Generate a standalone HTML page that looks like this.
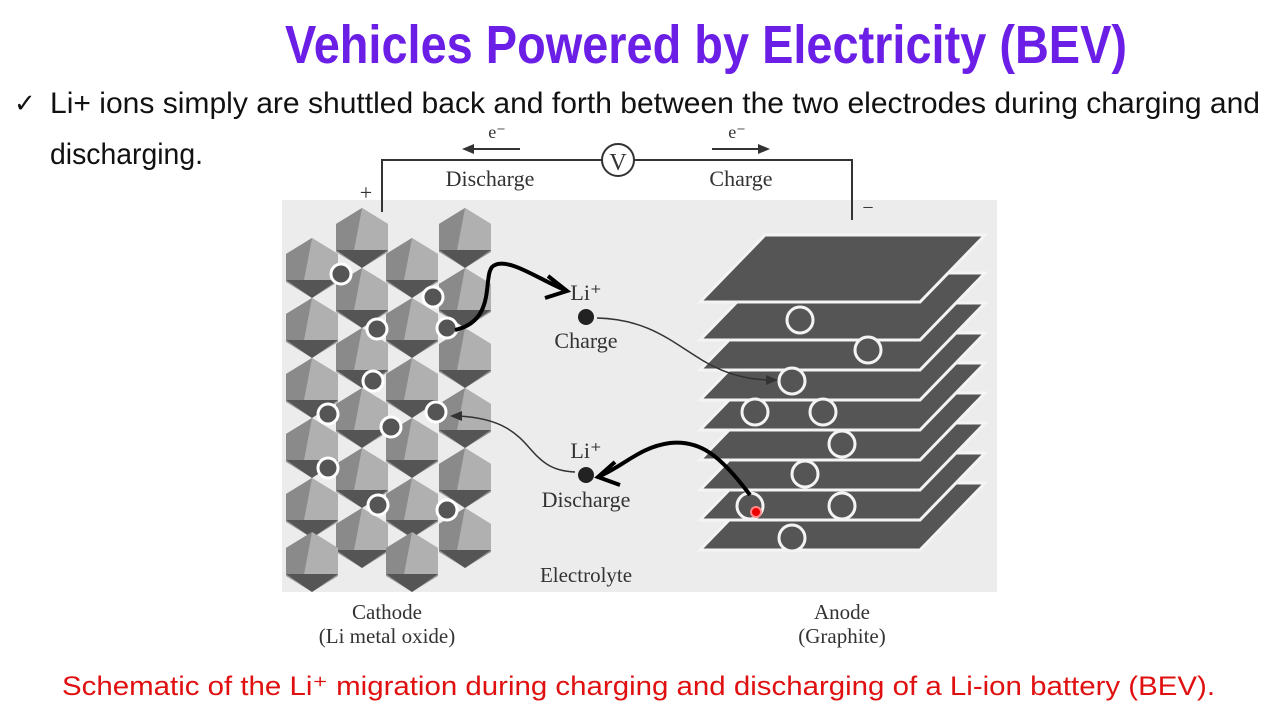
<!DOCTYPE html>
<html><head><meta charset="utf-8"><style>
html,body{margin:0;padding:0;background:#fff;}
svg{display:block;}
text{font-family:"Liberation Sans",sans-serif;}
.s{font-family:"Liberation Serif",serif;fill:#333;}
</style></head><body>
<svg width="1280" height="720" viewBox="0 0 1280 720" xmlns="http://www.w3.org/2000/svg">
<defs>
<g id="oct">
<polygon points="0,-30 26,-14 26,14 0,30 -26,14 -26,-14" fill="#9a9a9a"/>
<polygon points="0,-30 26,-14 26,12 -8,12" fill="#b0b0b0"/>
<polygon points="0,-30 -26,-14 -26,12 -8,12" fill="#8a8a8a"/>
<polygon points="-26,12 26,12 0,30" fill="#555"/>
</g>
<g id="ion"><circle r="10" fill="#555" stroke="#fff" stroke-width="3"/></g>
</defs>
<rect width="1280" height="720" fill="#fff"/>
<text x="285" y="63" font-size="54" font-weight="bold" fill="#6b1fe6" textLength="842" lengthAdjust="spacingAndGlyphs">Vehicles Powered by Electricity (BEV)</text>
<text x="14" y="112" font-size="26" fill="#111">✓</text>
<text x="50" y="113" font-size="30" fill="#111" textLength="1210" lengthAdjust="spacingAndGlyphs">Li+ ions simply are shuttled back and forth between the two electrodes during charging and</text>
<text x="50" y="164" font-size="30" fill="#111" textLength="153" lengthAdjust="spacingAndGlyphs">discharging.</text>

<rect x="282" y="200" width="715" height="392" fill="#ececec"/>
<path d="M382 212 V160 H602 M634 160 H852 V220" fill="none" stroke="#333" stroke-width="2"/>
<circle cx="618" cy="160" r="16" fill="#fff" stroke="#333" stroke-width="2"/>
<text x="618" y="170" class="s" font-size="24" text-anchor="middle">V</text>
<text x="366" y="200" class="s" font-size="22" text-anchor="middle">+</text>
<text x="868" y="214" class="s" font-size="20" text-anchor="middle">−</text>
<text x="490" y="186" class="s" font-size="22" text-anchor="middle">Discharge</text>
<text x="741" y="186" class="s" font-size="22" text-anchor="middle">Charge</text>
<text x="497" y="138" class="s" font-size="18" text-anchor="middle">e⁻</text>
<text x="737" y="138" class="s" font-size="18" text-anchor="middle">e⁻</text>
<path d="M520 149 H470" stroke="#333" stroke-width="2"/><polygon points="462,149 474,144 474,154" fill="#333"/>
<path d="M712 149 H760" stroke="#333" stroke-width="2"/><polygon points="770,149 758,144 758,154" fill="#333"/>

<g>
<use href="#oct" x="362" y="238"/><use href="#oct" x="465" y="238"/>
<use href="#oct" x="312" y="268"/><use href="#oct" x="412" y="268"/>
<use href="#oct" x="362" y="298"/><use href="#oct" x="465" y="298"/>
<use href="#oct" x="312" y="328"/><use href="#oct" x="412" y="328"/>
<use href="#oct" x="362" y="358"/><use href="#oct" x="465" y="358"/>
<use href="#oct" x="312" y="388"/><use href="#oct" x="412" y="388"/>
<use href="#oct" x="362" y="418"/><use href="#oct" x="465" y="418"/>
<use href="#oct" x="312" y="448"/><use href="#oct" x="412" y="448"/>
<use href="#oct" x="362" y="478"/><use href="#oct" x="465" y="478"/>
<use href="#oct" x="312" y="508"/><use href="#oct" x="412" y="508"/>
<use href="#oct" x="362" y="538"/><use href="#oct" x="465" y="538"/>
<use href="#oct" x="312" y="562"/><use href="#oct" x="412" y="562"/>
</g>
<g>
<use href="#ion" x="341" y="274"/><use href="#ion" x="433" y="297"/><use href="#ion" x="377" y="329"/>
<use href="#ion" x="447" y="328"/><use href="#ion" x="373" y="381"/><use href="#ion" x="328" y="414"/>
<use href="#ion" x="391" y="427"/><use href="#ion" x="436" y="412"/><use href="#ion" x="328" y="468"/>
<use href="#ion" x="378" y="505"/><use href="#ion" x="447" y="510"/>
</g>

<g stroke="#f4f4f4" stroke-width="3" fill="#555">
<polygon points="700,550 765,483 985,483 920,550"/>
<polygon points="700,520 765,453 985,453 920,520"/>
<polygon points="700,490 765,423 985,423 920,490"/>
<polygon points="700,460 765,393 985,393 920,460"/>
<polygon points="700,430 765,363 985,363 920,430"/>
<polygon points="700,400 765,333 985,333 920,400"/>
<polygon points="700,370 765,303 985,303 920,370"/>
<polygon points="700,340 765,273 985,273 920,340"/>
<polygon points="700,302 765,235 985,235 920,302"/>
</g>
<g fill="#555" stroke="#f4f4f4" stroke-width="3">
<circle cx="800" cy="320" r="13"/><circle cx="868" cy="350" r="13"/><circle cx="792" cy="381" r="13"/>
<circle cx="755" cy="412" r="13"/><circle cx="823" cy="412" r="13"/><circle cx="842" cy="444" r="13"/>
<circle cx="805" cy="474" r="13"/><circle cx="842" cy="506" r="13"/><circle cx="750" cy="506" r="13"/>
<circle cx="792" cy="538" r="13"/>
</g>
<circle cx="756" cy="512" r="5" fill="#e00" stroke="#f88" stroke-width="2"/>

<circle cx="586" cy="317" r="8" fill="#222"/>
<circle cx="586" cy="475" r="8" fill="#222"/>
<text x="586" y="300" class="s" font-size="22" text-anchor="middle">Li⁺</text>
<text x="586" y="348" class="s" font-size="22" text-anchor="middle">Charge</text>
<text x="586" y="458" class="s" font-size="22" text-anchor="middle">Li⁺</text>
<text x="586" y="507" class="s" font-size="22" text-anchor="middle">Discharge</text>
<path d="M597 318 C680 320 690 378 770 380" fill="none" stroke="#333" stroke-width="1.5"/>
<polygon points="778,380 766,375 766,385" fill="#333"/>
<path d="M575 472 C520 470 540 420 458 416" fill="none" stroke="#333" stroke-width="1.5"/>
<polygon points="450,416 462,411 462,421" fill="#333"/>
<path d="M455 330 C500 320 480 270 495 265 C510 258 540 280 565 290" fill="none" stroke="#000" stroke-width="4"/>
<path d="M548 276 L567 291 L545 298" fill="none" stroke="#000" stroke-width="4"/>
<path d="M750 495 C720 455 700 440 670 443 C640 447 625 465 600 476" fill="none" stroke="#000" stroke-width="4"/>
<path d="M615 462 L598 477 L620 485" fill="none" stroke="#000" stroke-width="4"/>

<text x="586" y="582" class="s" font-size="21" text-anchor="middle">Electrolyte</text>
<text x="387" y="619" class="s" font-size="21" text-anchor="middle">Cathode</text>
<text x="387" y="643" class="s" font-size="21" text-anchor="middle">(Li metal oxide)</text>
<text x="842" y="619" class="s" font-size="21" text-anchor="middle">Anode</text>
<text x="842" y="643" class="s" font-size="21" text-anchor="middle">(Graphite)</text>

<text x="62" y="695" font-size="27" fill="#e01010" textLength="1153" lengthAdjust="spacingAndGlyphs">Schematic of the Li⁺ migration during charging and discharging of a Li-ion battery (BEV).</text>
</svg>
</body></html>
